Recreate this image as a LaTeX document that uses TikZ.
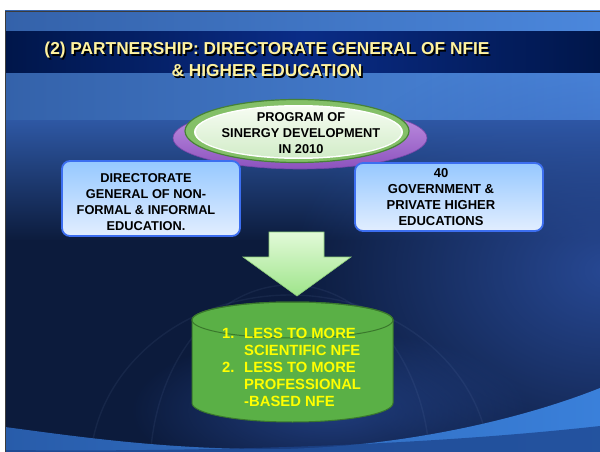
\documentclass[tikz,border=0pt]{standalone}
\usepackage{fontspec}
\setmainfont{Liberation Sans}
\usetikzlibrary{shapes.geometric,fadings}
\definecolor{titleyellow}{RGB}{255,243,160}
\definecolor{bandside}{RGB}{0,22,74}
\definecolor{bandmid}{RGB}{10,44,135}
\definecolor{bgtopL}{RGB}{52,98,170}
\definecolor{bgtopR}{RGB}{75,135,220}
\definecolor{bgmid}{RGB}{46,88,164}
\definecolor{bgdark}{RGB}{12,27,60}
\definecolor{glowblue}{RGB}{46,84,170}
\definecolor{swooshL}{RGB}{40,92,170}
\definecolor{swooshR}{RGB}{58,128,218}
\definecolor{swooshdark}{RGB}{28,68,140}
\definecolor{boxborder}{RGB}{60,110,240}
\definecolor{boxtop}{RGB}{150,200,255}
\definecolor{boxbottom}{RGB}{226,238,255}
\definecolor{purpletop}{RGB}{196,150,228}
\definecolor{purplebottom}{RGB}{140,82,190}
\definecolor{purpleedge}{RGB}{120,70,170}
\definecolor{discedge}{RGB}{70,130,55}
\definecolor{discring}{RGB}{132,192,104}
\definecolor{disctop}{RGB}{246,252,242}
\definecolor{discbottom}{RGB}{210,236,200}
\definecolor{arrowtop}{RGB}{226,250,216}
\definecolor{arrowbottom}{RGB}{158,228,138}
\definecolor{arrowedge}{RGB}{140,205,120}
\definecolor{cylfill}{RGB}{90,176,70}
\definecolor{cyledge}{RGB}{58,120,44}
\definecolor{cyltext}{RGB}{255,255,0}
\definecolor{slideedge}{RGB}{60,60,60}
\tikzfading[name=glowfade, inner color=transparent!0, outer color=transparent!100]
\newcommand\myfs[2]{\fontsize{#1}{#2}\selectfont\bfseries}
\begin{document}
\begin{tikzpicture}[x=1pt,y=-1pt,
  infobox/.style={draw=boxborder, line width=1.8pt, rounded corners=8pt,
    top color=boxtop, bottom color=boxbottom, inner sep=0pt},
  txt/.style={anchor=base, inner sep=0pt, text=black},
  globeline/.style={draw=glowblue!60!white, line width=1.4pt, opacity=0.09}]
\useasboundingbox (0,0) rectangle (600,452);
\fill[white] (0,0) rectangle (600,452);
% ---- slide background ----
\shade[left color=bgtopL, right color=bgtopR] (5,11) rectangle (600,33);
\shade[left color=bgtopL, right color=bgtopR] (5,72) rectangle (600,121);
\shade[top color=bgmid, bottom color=bgdark] (5,120) rectangle (600,241);
\fill[bgdark] (5,240) rectangle (600,452);
\fill[glowblue, path fading=glowfade, opacity=0.8] (610,270) ellipse [x radius=320, y radius=230];
\fill[glowblue, path fading=glowfade, opacity=0.6] (330,410) ellipse [x radius=200, y radius=80];
% faint globe meridians
\draw[globeline] (290,470) ellipse [x radius=140, y radius=185];
\draw[globeline] (290,470) ellipse [x radius=200, y radius=175];
% title band
\shade[left color=bandside, right color=bandside, middle color=bandmid] (5,32) rectangle (600,73);
% bottom swoosh
\shade[left color=swooshL, right color=swooshR]
  (5,427) .. controls (80,437) and (170,450) .. (280,449)
  .. controls (400,447) and (520,420) .. (600,388) -- (600,452) -- (5,452) -- cycle;
\fill[swooshdark, opacity=0.75]
  (5,450) .. controls (200,452) and (420,446) .. (600,426) -- (600,452) -- (5,452) -- cycle;
\draw[slideedge, line width=0.8pt] (5,452) -- (5,11) -- (600,11);
% ---- title ----
\node[txt, text=black, font=\myfs{17.3}{22}] (titleshadow) at (268.6,56.6)
  {\begin{tabular}[t]{@{}c@{}}(2) PARTNERSHIP: DIRECTORATE GENERAL OF NFIE\\ \& HIGHER EDUCATION\end{tabular}};
\node[txt, text=titleyellow, font=\myfs{17.3}{22}] (title) at (267,55)
  {\begin{tabular}[t]{@{}c@{}}(2) PARTNERSHIP: DIRECTORATE GENERAL OF NFIE\\ \& HIGHER EDUCATION\end{tabular}};
% ---- program disc ----
\node[ellipse, draw=purpleedge, line width=0.6pt, top color=purpletop, bottom color=purplebottom,
  minimum width=254pt, minimum height=62pt, inner sep=0pt] (discbase) at (300,138) {};
\node[ellipse, draw=discedge, line width=1.2pt, fill=discring,
  minimum width=224pt, minimum height=63pt, inner sep=0pt] (disc) at (297,131) {};
\node[ellipse, fill=white, minimum width=209pt, minimum height=54pt, inner sep=0pt] (discwhite) at (298.5,132) {};
\node[ellipse, top color=disctop, bottom color=discbottom,
  minimum width=205pt, minimum height=51pt, inner sep=0pt] (discinner) at (298.5,132) {};
\node[txt, font=\myfs{12.8}{16}] (program) at (301,121.7)
  {\begin{tabular}[t]{@{}c@{}}PROGRAM OF\\ SINERGY DEVELOPMENT\\ IN 2010\end{tabular}};
% ---- side boxes ----
\node[infobox, minimum width=178pt, minimum height=75pt] (dgbox) at (151,198.5) {};
\node[txt, font=\myfs{12.8}{16}] (dgtext) at (146,182.3)
  {\begin{tabular}[t]{@{}c@{}}DIRECTORATE\\ GENERAL OF NON-\\ FORMAL \& INFORMAL\\ EDUCATION.\end{tabular}};
\node[infobox, minimum width=188pt, minimum height=68pt] (hebox) at (449,197) {};
\node[txt, font=\myfs{13}{16}] (hetext) at (441,177.3)
  {\begin{tabular}[t]{@{}c@{}}40\\ GOVERNMENT \&\\ PRIVATE HIGHER\\ EDUCATIONS\end{tabular}};
% ---- block arrow ----
\shade[top color=arrowtop, bottom color=arrowbottom, draw=arrowedge, line width=0.6pt]
  (269,232) -- (324,232) -- (324,257) -- (351,257) -- (297,296) -- (243,257) -- (269,257) -- cycle;
% ---- cylinder ----
\filldraw[fill=cylfill, draw=cyledge, line width=1pt]
  (192,320) -- (192,403) arc[start angle=180, end angle=0, x radius=100.5, y radius=19]
  -- (393,320) arc[start angle=0, end angle=-180, x radius=100.5, y radius=18] -- cycle;
\draw[cyledge, line width=1pt] (292.5,320) ellipse [x radius=100.5, y radius=18];
\node[anchor=base west, inner sep=0pt, text=cyltext, font=\myfs{14.8}{17}] (results) at (222,338.3)
  {\begin{tabular}[t]{@{}l@{\hspace{9.7pt}}l@{}}1. & LESS TO MORE\\ & SCIENTIFIC NFE\\ 2. & LESS TO MORE\\ & PROFESSIONAL\\ & -BASED NFE\end{tabular}};
\end{tikzpicture}
\end{document}
